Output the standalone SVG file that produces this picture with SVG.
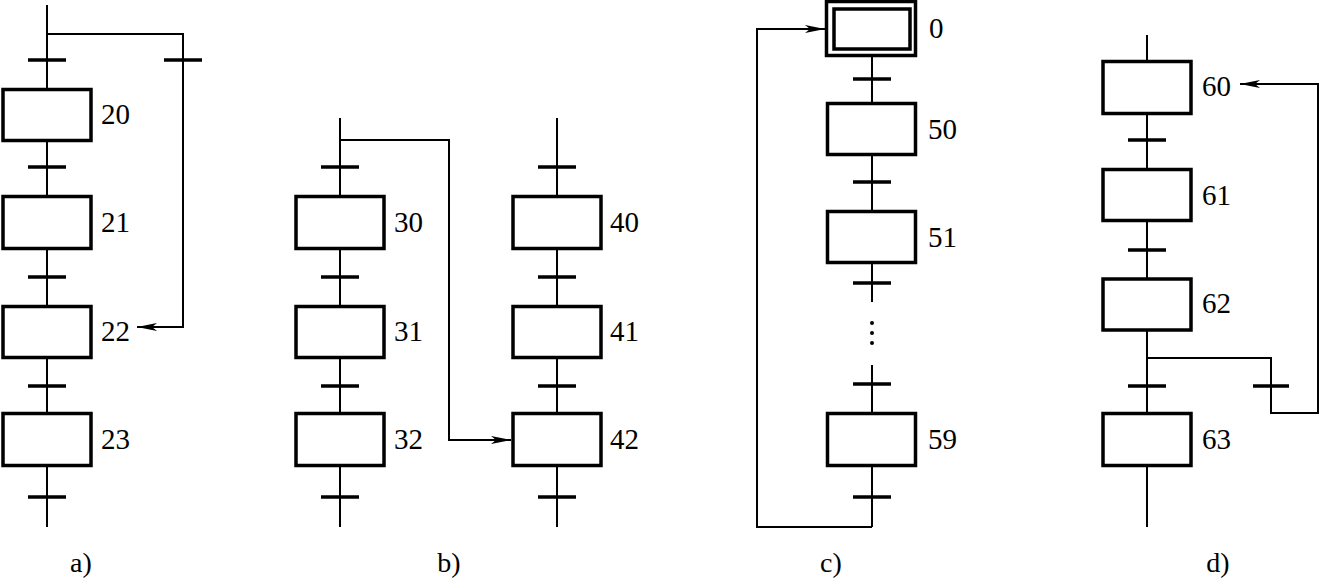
<svg xmlns="http://www.w3.org/2000/svg" width="1320" height="580" viewBox="0 0 1320 580">
<defs>
<style>
.ln{fill:none;stroke:#000;stroke-width:2}
.bar{stroke:#000;stroke-width:3.5}
.box{fill:#fff;stroke:#000;stroke-width:3.5}
.lbl{font-family:'Liberation Serif','Times New Roman',serif;font-size:29px;fill:#000}
.cap{font-family:'Liberation Serif','Times New Roman',serif;font-size:28px;fill:#000;text-anchor:middle}
</style>
<marker id="ah" viewBox="0 0 20 10" refX="20" refY="5" markerWidth="20" markerHeight="10" markerUnits="userSpaceOnUse" orient="auto">
<path d="M0,1 L20,5 L0,9 L5,5 Z" fill="#000"/>
</marker>
</defs>
<rect width="1320" height="580" fill="#fff"/>
<g id="connectors">
<path class="ln" d="M47,5 V527"/>
<path class="ln" d="M340,118 V527"/>
<path class="ln" d="M557,118 V527"/>
<path class="ln" d="M872,57 V302 M872,365 V527"/>
<path class="ln" d="M1147,35 V527"/>
<path class="ln" d="M47,34 H183 V327 H137" marker-end="url(#ah)"/>
<path class="ln" d="M340,140 H449 V440 H511" marker-end="url(#ah)"/>
<path class="ln" d="M872,527 H757 V29 H825" marker-end="url(#ah)"/>
<path class="ln" d="M1147,358 H1271 V413 H1318 V84 H1240" marker-end="url(#ah)"/>
<g class="bar">
<path d="M28,60 H66 M28,167 H66 M28,277 H66 M28,386 H66 M28,497 H66"/>
<path d="M164,60 H202"/>
<path d="M321,167 H359 M321,277 H359 M321,386 H359 M321,497 H359"/>
<path d="M538,167 H576 M538,277 H576 M538,386 H576 M538,497 H576"/>
<path d="M853,79 H891 M853,182 H891 M853,283 H891 M853,384 H891 M853,497 H891"/>
<path d="M1128,140 H1166 M1128,250 H1166 M1128,386 H1166 M1253,386 H1289"/>
</g>
<g fill="#000">
<circle cx="872" cy="323" r="2"/>
<circle cx="872" cy="333" r="2"/>
<circle cx="872" cy="343" r="2"/>
</g>
</g>
<g id="step20"><rect class="box" x="3" y="89.5" width="88" height="51"/><text class="lbl" x="101" y="124">20</text></g>
<g id="step21"><rect class="box" x="3" y="196.5" width="88" height="52"/><text class="lbl" x="101" y="232">21</text></g>
<g id="step22"><rect class="box" x="3" y="306.5" width="88" height="51"/><text class="lbl" x="101" y="341">22</text></g>
<g id="step23"><rect class="box" x="3" y="413.5" width="88" height="52"/><text class="lbl" x="101" y="449">23</text></g>

<g id="step30"><rect class="box" x="296" y="196.5" width="88" height="52"/><text class="lbl" x="394" y="232">30</text></g>
<g id="step31"><rect class="box" x="296" y="306.5" width="88" height="51"/><text class="lbl" x="394" y="341">31</text></g>
<g id="step32"><rect class="box" x="296" y="413.5" width="88" height="52"/><text class="lbl" x="394" y="449">32</text></g>

<g id="step40"><rect class="box" x="513" y="196.5" width="88" height="52"/><text class="lbl" x="610" y="232">40</text></g>
<g id="step41"><rect class="box" x="513" y="306.5" width="88" height="51"/><text class="lbl" x="610" y="341">41</text></g>
<g id="step42"><rect class="box" x="513" y="413.5" width="88" height="52"/><text class="lbl" x="610" y="449">42</text></g>

<g id="step0"><rect class="box" x="826.5" y="1.5" width="89" height="54"/><rect class="box" x="834" y="9" width="76" height="40"/><text class="lbl" x="929" y="38">0</text></g>
<g id="step50"><rect class="box" x="827.5" y="103.5" width="88" height="51"/><text class="lbl" x="928" y="139">50</text></g>
<g id="step51"><rect class="box" x="827.5" y="211.5" width="88" height="51"/><text class="lbl" x="928" y="247">51</text></g>
<g id="step59"><rect class="box" x="827.5" y="413.5" width="88" height="52"/><text class="lbl" x="928" y="449">59</text></g>

<g id="step60"><rect class="box" x="1103" y="61.5" width="88" height="52"/><text class="lbl" x="1202" y="96">60</text></g>
<g id="step61"><rect class="box" x="1103" y="169.5" width="88" height="51"/><text class="lbl" x="1202" y="205">61</text></g>
<g id="step62"><rect class="box" x="1103" y="279" width="88" height="51"/><text class="lbl" x="1202" y="313">62</text></g>
<g id="step63"><rect class="box" x="1103" y="413.5" width="88" height="52"/><text class="lbl" x="1202" y="449">63</text></g>

<text class="cap" x="81" y="572">a)</text>
<text class="cap" x="449" y="572">b)</text>
<text class="cap" x="831" y="572">c)</text>
<text class="cap" x="1218" y="572">d)</text>
</svg>
